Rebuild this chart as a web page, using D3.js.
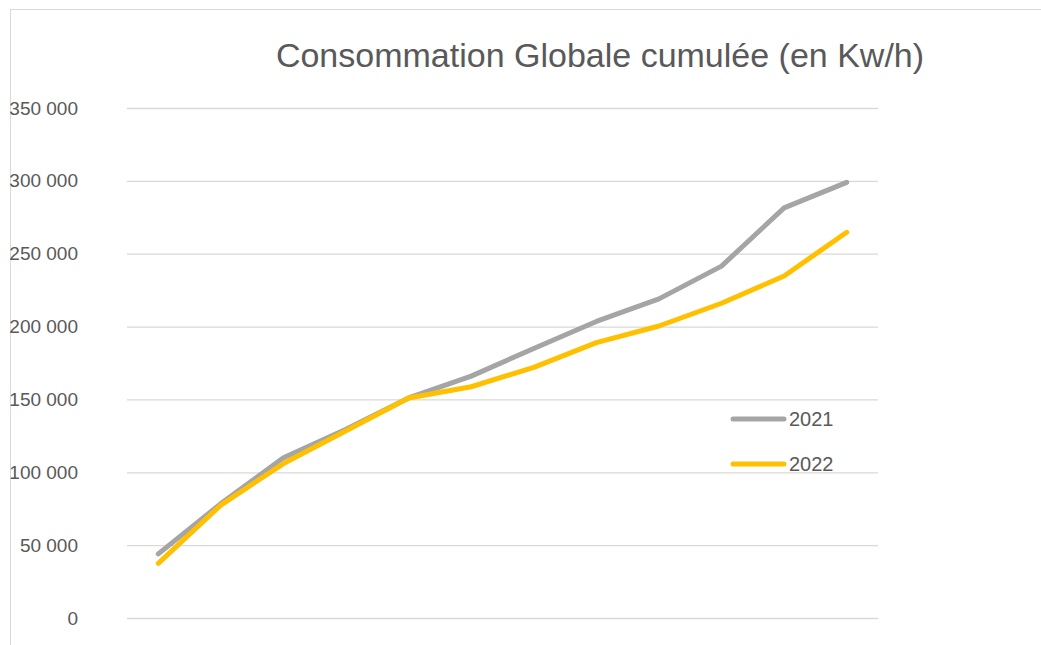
<!DOCTYPE html>
<html><head><meta charset="utf-8">
<script src="https://cdn.jsdelivr.net/npm/d3@7"></script>
<style>body{margin:0;background:#fff}</style>
</head><body>
<svg id="c" width="1041" height="645"></svg>
<script>
const months = ["Jan","Fév","Mar","Avr","Mai","Juin","Juil","Août","Sep","Oct","Nov","Déc"];
const values2021 = [44000, 78500, 110000, 129500, 151000, 166000, 185000, 203500, 219000, 241500, 281500, 299000];
const values2022 = [37500, 77500, 106000, 128500, 151000, 158700, 172000, 189000, 200400, 216000, 234700, 264700];
const seriesNames = ["2021", "2022"];
const yTicks = [0, 50000, 100000, 150000, 200000, 250000, 300000, 350000];
const title = "Consommation Globale cumulée (en Kw/h)";

const colors = ["#a5a5a5", "#ffc000"];
const font = "'Liberation Sans', Arial, sans-serif";
const svg = d3.select("#c");
const m = {left:127, right:1041-878, top:108, bottom:645-618};
const W = 1041, H = 645;

svg.append("rect").attr("x",10.5).attr("y",9.5).attr("width",1100).attr("height",700)
  .attr("fill","none").attr("stroke","#d9d9d9").attr("stroke-width",1);

const x = d3.scaleBand().domain(months).range([m.left, W - m.right]);
const y = d3.scaleLinear().domain([0, 350000]).range([H - m.bottom, m.top]);

const fmt = v => d3.format(",")(v).replace(/,/g, " ");
const yAxis = d3.axisLeft(y).tickValues(yTicks).tickFormat(fmt)
  .tickSize(-(W - m.left - m.right)).tickPadding(49);
const gy = svg.append("g").attr("transform", `translate(${m.left},0)`).call(yAxis);
gy.select(".domain").remove();
gy.selectAll(".tick line").attr("stroke","#d9d9d9").attr("stroke-width",1.3);
gy.selectAll(".tick text").attr("fill","#595959").style("font-family",font).style("font-size","19px");

const line = d3.line().x((d,i) => x(months[i]) + x.bandwidth()/2).y(d => y(d));
[values2021, values2022].forEach((vals, k) => {
  svg.append("path").datum(vals).attr("d", line).attr("fill","none")
    .attr("stroke", colors[k]).attr("stroke-width", 5)
    .attr("stroke-linecap","round").attr("stroke-linejoin","round");
});

svg.append("text").attr("x", 600).attr("y", 67).attr("text-anchor","middle")
  .attr("fill","#595959").style("font-family",font).style("font-size","34px").text(title);

const legY = [419, 464];
seriesNames.forEach((n, k) => {
  svg.append("line").attr("x1",733).attr("x2",784).attr("y1",legY[k]).attr("y2",legY[k])
    .attr("stroke",colors[k]).attr("stroke-width",5).attr("stroke-linecap","round");
  svg.append("text").attr("x",789).attr("y",legY[k]+7).attr("fill","#595959")
    .style("font-family",font).style("font-size","20px").text(n);
});
</script>
</body></html>
